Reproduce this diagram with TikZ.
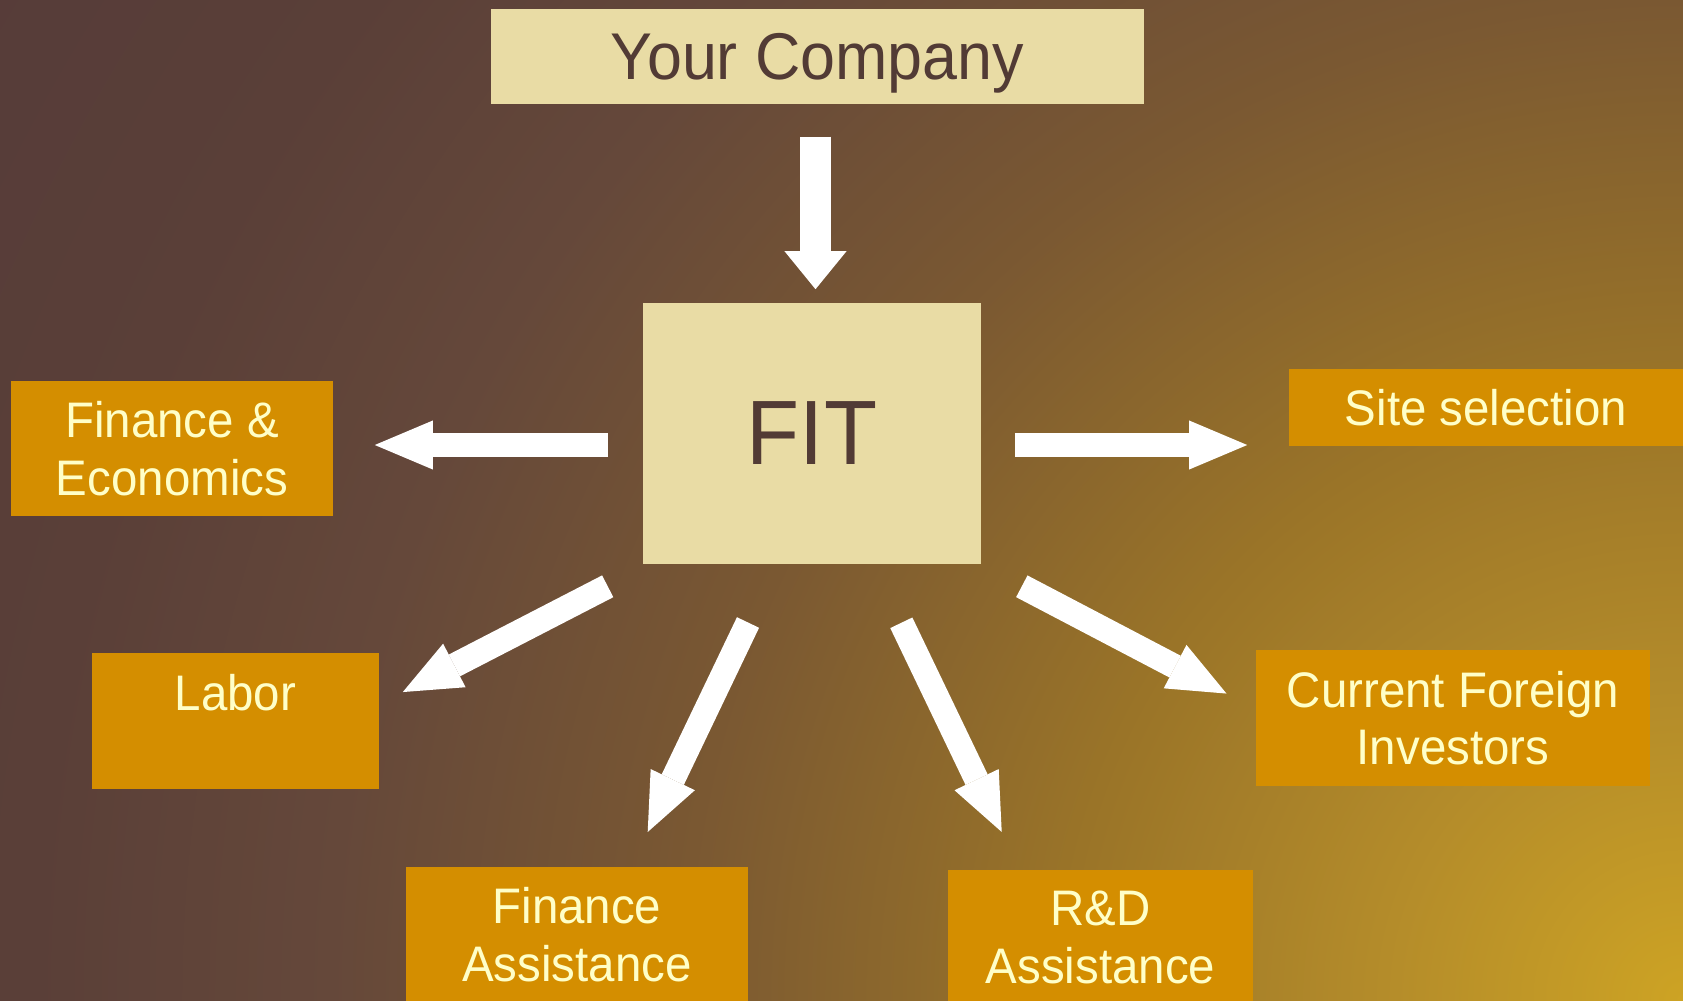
\documentclass[tikz,border=0pt]{standalone}
\usepackage{fontspec}
\setmainfont{Liberation Sans}[FakeStretch=0.95]
\usetikzlibrary{arrows.meta}
\usepackage{xcolor}
\definecolor{parchment}{RGB}{233,220,165}
\definecolor{cocoa}{RGB}{82,59,53}
\definecolor{amber}{RGB}{212,142,0}
\definecolor{cream}{RGB}{255,255,200}
\definecolor{glowA}{RGB}{205,163,36}
\definecolor{glowB}{RGB}{180,140,42}
\definecolor{glowC}{RGB}{154,116,40}
\definecolor{glowD}{RGB}{122,88,50}
\definecolor{glowE}{RGB}{101,72,58}
\definecolor{glowF}{RGB}{90,63,56}
\definecolor{glowG}{RGB}{86,60,57}
\pgfdeclareradialshading{warmglow}{\pgfpointorigin}{color(0bp)=(glowA); color(3.75bp)=(glowB); color(7.75bp)=(glowC); color(12.5bp)=(glowD); color(16.9bp)=(glowE); color(20.6bp)=(glowF); color(25bp)=(glowG); color(50bp)=(glowG)}
\tikzset{
  core/.style={fill=parchment, text=cocoa, inner sep=0pt},
  topic/.style={fill=amber, text=cream, align=center, inner sep=0pt, minimum height=1.35cm, font=\fontsize{14.2}{16.4}\selectfont},
  flow/.style={white, line width=0.245cm, -{Triangle[width=0.49cm,length=0.58cm,line width=0pt]}},
  feed/.style={white, line width=0.31cm, -{Triangle[width=0.62cm,length=0.38cm,line width=0pt]}},
}

\begin{document}
\begin{tikzpicture}[x=0.01cm, y=-0.01cm]
    \useasboundingbox (0,0) rectangle (1683,1000);
    % backdrop
    \begin{scope}
      \clip (0,0) rectangle (1683,1000);
      \shade[shading=warmglow] (1683,1000) circle (20cm);
    \end{scope}

    \node[core, minimum width=6.53cm, minimum height=0.95cm, text depth=0pt, font=\fontsize{18.8}{22}\selectfont] (company) at (817.5,56.5) {Your Company};
    \node[core, minimum width=3.38cm, minimum height=2.61cm, font=\fontsize{26}{30}\selectfont] (fit) at (812,433.5) {FIT};

    \node[topic, minimum width=3.22cm]                      (econ)      at (172,448.5)  {Finance \&\\Economics};
    \node[topic, minimum width=3.94cm, minimum height=0.77cm] (site)    at (1486,407.5) {Site selection};
    \node[topic, minimum width=2.87cm]                      (labor)     at (235.5,721)  {Labor\\\mbox{}};
    \node[topic, minimum width=3.93cm]                      (investors) at (1453,718)   {Current Foreign\\Investors};
    \node[topic, minimum width=3.42cm]                      (finaid)    at (577,934.5)  {Finance\\Assistance};
    \node[topic, minimum width=3.04cm]                      (rdaid)     at (1100.5,937.5) {R\&D\\Assistance};

    \draw[feed] ([shift={(-2,32)}]company.south)      -- ([shift={(3.5,-13)}]fit.north);
    \draw[flow] ([shift={(-34.5,11.5)}]fit.west)      -- ([shift={(41,-3.5)}]econ.east);
    \draw[flow] ([shift={(33,11.5)}]fit.east)         -- ([shift={(-41,37.5)}]site.west);
    \draw[flow] ([shift={(-34.5,21.5)}]fit.south west) -- ([shift={(23,39.3)}]labor.north east);
    \draw[flow] ([shift={(-64,57.7)}]fit.south)       -- ([shift={(70.7,-34.3)}]finaid.north);
    \draw[flow] ([shift={(89.3,58)}]fit.south)        -- ([shift={(-98.8,-37.3)}]rdaid.north);
    \draw[flow] ([shift={(40,21.5)}]fit.south east)   -- ([shift={(-29.2,43.8)}]investors.north west);
  \end{tikzpicture}
\end{document}
